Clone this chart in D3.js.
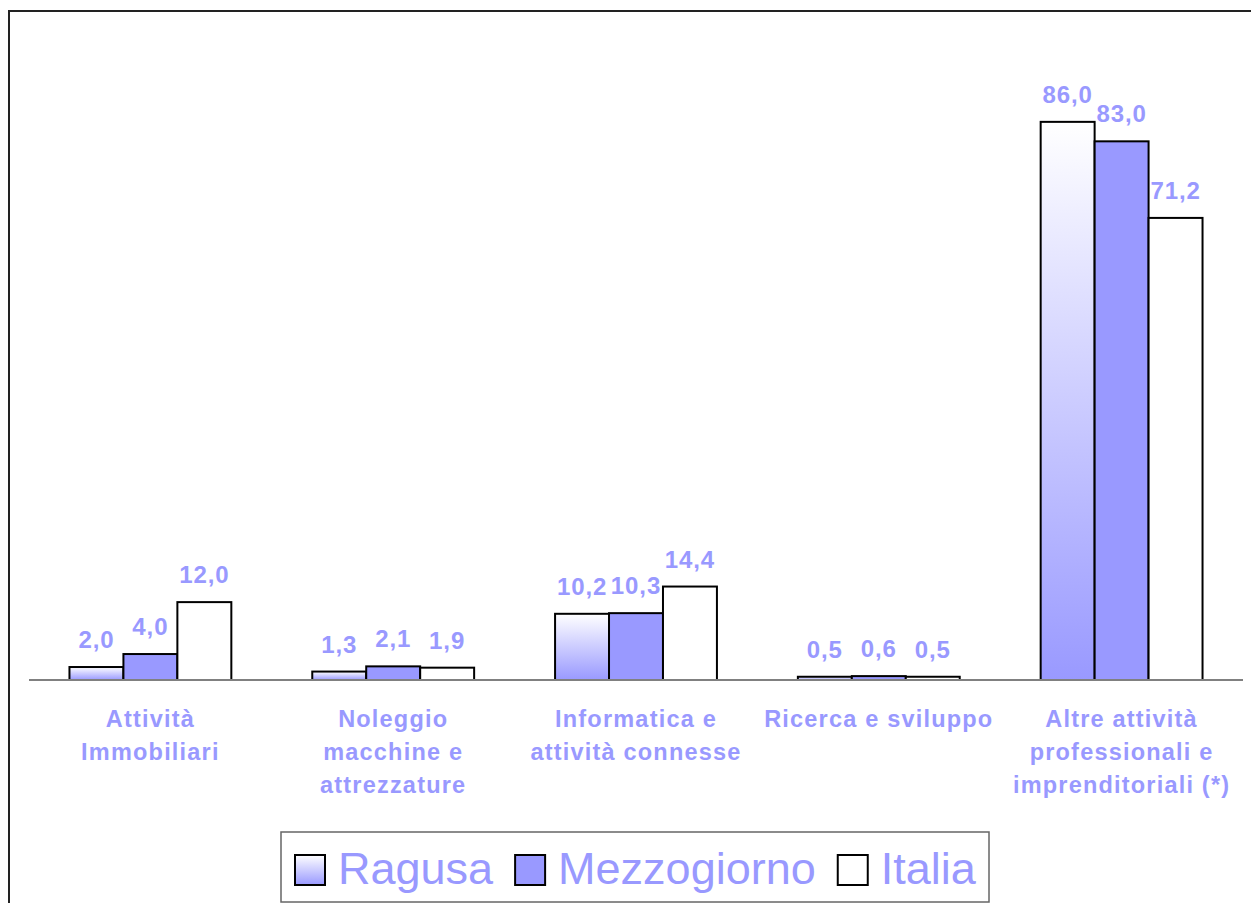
<!DOCTYPE html>
<html>
<head>
<meta charset="utf-8">
<script src="https://cdn.jsdelivr.net/npm/d3@7"></script>
<style>
  body { margin: 0; background: #fff; }
  svg { display: block; font-family: "Liberation Sans", Arial, sans-serif; }
</style>
</head>
<body>
<svg id="chart" width="1251" height="903"></svg>
<script>
"use strict";

// categories (multi-line labels) and the three series
var categories = ["Attività Immobiliari", "Noleggio macchine e attrezzature", "Informatica e attività connesse", "Ricerca e sviluppo", "Altre attività professionali e imprenditoriali (*)"];
var categoryLines = [
  ["Attività", "Immobiliari"],
  ["Noleggio", "macchine e", "attrezzature"],
  ["Informatica e", "attività connesse"],
  ["Ricerca e sviluppo"],
  ["Altre attività", "professionali e", "imprenditoriali (*)"]
];
var seriesNames = ["Ragusa", "Mezzogiorno", "Italia"];
var ragusa = [2.0, 1.3, 10.2, 0.5, 86.0];
var mezzogiorno = [4.0, 2.1, 10.3, 0.6, 83.0];
var italia = [12.0, 1.9, 14.4, 0.5, 71.2];
var seriesValues = [ragusa, mezzogiorno, italia];

var labelColor = "#9999FF";
var fmt = function(v) { return d3.format(".1f")(v).replace(".", ","); };

var svg = d3.select("#chart");

// gradient for Ragusa bars: white at top to lavender at bottom
var defs = svg.append("defs");
var grad = defs.append("linearGradient").attr("id", "ragusa-grad")
  .attr("x1", "0%").attr("y1", "0%").attr("x2", "0%").attr("y2", "100%");
grad.append("stop").attr("offset", "0%").attr("stop-color", "#ffffff");
grad.append("stop").attr("offset", "100%").attr("stop-color", "#9999FF");

var fills = ["url(#ragusa-grad)", "#9999FF", "#ffffff"];

// outer frame (runs off the right and bottom edges)
svg.append("rect")
  .attr("x", 9).attr("y", 11)
  .attr("width", 1300).attr("height", 950)
  .attr("fill", "none").attr("stroke", "#222").attr("stroke-width", 2);

var x0 = d3.scaleBand().domain(categories).range([29, 1243]).padding(0);
var x1 = d3.scaleBand().domain(seriesNames).range([0, x0.bandwidth()])
  .paddingInner(0).paddingOuter(0.75);
var y = d3.scaleLinear().domain([0, 100]).range([680, 31]);

var groups = svg.append("g").selectAll("g")
  .data(categories)
  .enter().append("g")
  .attr("transform", function(d) { return "translate(" + x0(d) + ",0)"; });

groups.selectAll("rect")
  .data(function(d, i) { return seriesNames.map(function(s, j) { return {s: s, j: j, v: seriesValues[j][i]}; }); })
  .enter().append("rect")
  .attr("x", function(d) { return x1(d.s); })
  .attr("y", function(d) { return y(d.v); })
  .attr("width", x1.bandwidth())
  .attr("height", function(d) { return y(0) - y(d.v); })
  .attr("fill", function(d) { return fills[d.j]; })
  .attr("stroke", "#000")
  .attr("stroke-width", 2);

groups.selectAll("text.val")
  .data(function(d, i) { return seriesNames.map(function(s, j) { return {s: s, j: j, v: seriesValues[j][i]}; }); })
  .enter().append("text")
  .attr("class", "val")
  .attr("x", function(d) { return x1(d.s) + x1.bandwidth() / 2; })
  .attr("y", function(d) { return y(d.v) - 19; })
  .attr("text-anchor", "middle")
  .attr("font-size", "24px")
  .attr("font-weight", "bold")
  .attr("letter-spacing", "0.9px")
  .attr("fill", labelColor)
  .text(function(d) { return fmt(d.v); });

// baseline
svg.append("line")
  .attr("x1", 29).attr("x2", 1243)
  .attr("y1", y(0)).attr("y2", y(0))
  .attr("stroke", "#808080").attr("stroke-width", 2);

// category labels
groups.each(function(d, i) {
  var t = d3.select(this).append("text")
    .attr("text-anchor", "middle")
    .attr("font-size", "23.5px")
    .attr("font-weight", "bold")
    .attr("letter-spacing", "1.2px")
    .attr("fill", labelColor);
  categoryLines[i].forEach(function(line, k) {
    t.append("tspan")
      .attr("x", x0.bandwidth() / 2)
      .attr("y", 727 + k * 33)
      .text(line);
  });
});

// legend
var legend = svg.append("g");
legend.append("rect")
  .attr("x", 281).attr("y", 832)
  .attr("width", 708).attr("height", 70)
  .attr("fill", "#fff").attr("stroke", "#666").attr("stroke-width", 1.5);

var lx = 295;
seriesNames.forEach(function(name, j) {
  legend.append("rect")
    .attr("x", lx).attr("y", 855)
    .attr("width", 30).attr("height", 30)
    .attr("fill", fills[j]).attr("stroke", "#000").attr("stroke-width", 2);
  var t = legend.append("text")
    .attr("x", lx + 43).attr("y", 884)
    .attr("font-size", "45px")
    .attr("fill", labelColor)
    .text(name);
  lx = lx + 43 + t.node().getComputedTextLength() + 22;
});
</script>
</body>
</html>
